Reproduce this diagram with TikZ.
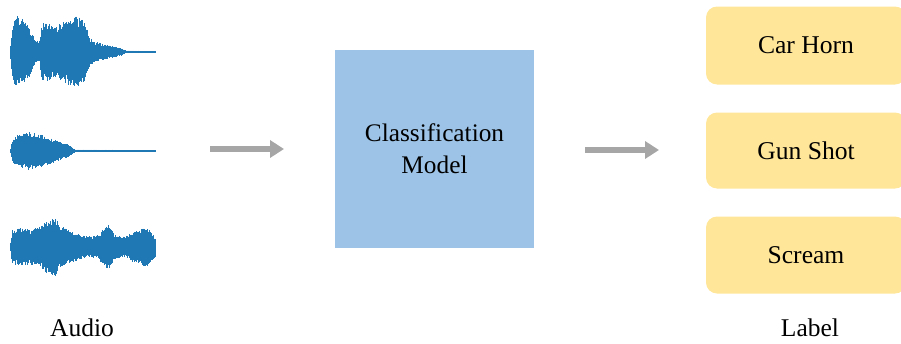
\documentclass[tikz,border=0pt]{standalone}
\usepackage{fontspec}
\setmainfont{Liberation Serif}
\usetikzlibrary{arrows.meta}
\definecolor{wavec}{HTML}{1F77B4}
\definecolor{modelc}{HTML}{9DC3E6}
\definecolor{labelc}{HTML}{FFE699}
\definecolor{arrowc}{HTML}{A6A6A6}
\tikzset{
  wave/.style={draw=wavec, line width=0.75pt},
  flow/.style={draw=arrowc, line width=5.5pt, -{Triangle[length=14pt,width=17pt]}},
  modelbox/.style={fill=modelc, draw=none, minimum width=199pt, minimum height=198pt, inner sep=0pt, align=center, font=\fontsize{25.3}{32}\selectfont},
  labelbox/.style={fill=labelc, draw=none, rounded corners=11pt, minimum width=200pt, inner sep=0pt, font=\fontsize{25.6}{30}\selectfont},
  caption/.style={font=\fontsize{25.5}{30}\selectfont, inner sep=0pt}
}
\newcommand\mywave[2]{%
  \foreach \x/\a [remember=\x as \px (initially 10), remember=\a as \pa (initially 0)] in {#2}{%
    \pgfmathtruncatemacro\n{(\x-\px)*2}%
    \foreach \k in {1,...,\n}{%
      \pgfmathsetmacro\xx{\px+\k/2}%
      \pgfmathsetmacro\env{\pa+(\a-\pa)*\k/\n}%
      \pgfmathsetmacro\up{\env*(0.68+0.32*rnd)}%
      \pgfmathsetmacro\dn{\env*(0.68+0.32*rnd)}%
      \draw[wave] (\xx,#1-\up-0.4) -- (\xx,#1+\dn+0.4);
    }%
  }%
}
\begin{document}
\begin{tikzpicture}[x=1pt,y=-1pt]
\clip (0,0) rectangle (901,343);
\pgfmathsetseed{11}
% waveform 1
\mywave{52}{12/26,16/37,22/34,28/28,34/14,39/9,42/28,48/30,55/25,62/29,70/34,76/36,84/32,90/14,95/10,105/7,115/5,122/3,126/1,155/0.2}
% waveform 2
\mywave{151}{12/10,16/15,28/19,40/16,50/13,60/9,70/5,75/1,155/0.2}
% waveform 3
\mywave{247}{12/16,20/19,30/17,40/20,46/26,55/29,62/20,70/16,80/12,90/10,97/11,104/18,108/23,113/14,120/10,127/11,133/15,140/16,146/21,150/16,155/10}

\coordinate (a1s) at (210,149);
\coordinate (a1e) at (284,149);
\draw[flow] (a1s) -- (a1e);

\node[modelbox] (model) at (434.5,149) {Classification\\Model};

\coordinate (a2s) at (585,150);
\coordinate (a2e) at (659,150);
\draw[flow] (a2s) -- (a2e);

\node[labelbox, minimum height=78pt] (car) at (806,45.5) {Car Horn};
\node[labelbox, minimum height=76pt] (gun) at (806,150.5) {Gun Shot};
\node[labelbox, minimum height=77pt] (scream) at (806,255) {Scream};

\node[caption] (audio) at (82,328) {Audio};
\node[caption] (label) at (810,328) {Label};
\end{tikzpicture}
\end{document}
